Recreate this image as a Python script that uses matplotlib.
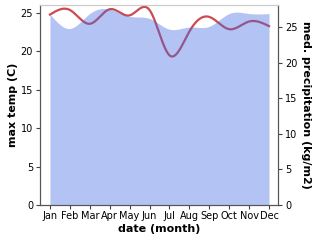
import numpy as np
import matplotlib
matplotlib.use("Agg")
import matplotlib.pyplot as plt

months = ["Jan", "Feb", "Mar", "Apr", "May", "Jun", "Jul", "Aug", "Sep", "Oct", "Nov", "Dec"]
max_temp = [24.8, 25.4, 23.6, 25.5, 24.7, 25.4, 19.5, 22.6, 24.5, 22.9, 23.9, 23.3]
precip = [26.8, 24.8, 26.9, 27.5, 26.5, 26.2, 24.7, 25.0, 25.1, 26.9, 26.9, 26.9]


def smooth(x, y, n=300):
    # natural cubic spline through the given points (rendering only)
    x = np.asarray(x, float)
    y = np.asarray(y, float)
    k = len(x)
    h = np.diff(x)
    A = np.zeros((k, k))
    b = np.zeros(k)
    A[0, 0] = A[-1, -1] = 1
    for i in range(1, k - 1):
        A[i, i - 1] = h[i - 1]
        A[i, i] = 2 * (h[i - 1] + h[i])
        A[i, i + 1] = h[i]
        b[i] = 3 * ((y[i + 1] - y[i]) / h[i] - (y[i] - y[i - 1]) / h[i - 1])
    c = np.linalg.solve(A, b)
    xs = np.linspace(x[0], x[-1], n)
    idx = np.clip(np.searchsorted(x, xs) - 1, 0, k - 2)
    dx = xs - x[idx]
    bb = (y[idx + 1] - y[idx]) / h[idx] - h[idx] * (2 * c[idx] + c[idx + 1]) / 3
    d = (c[idx + 1] - c[idx]) / (3 * h[idx])
    ys = y[idx] + bb * dx + c[idx] * dx ** 2 + d * dx ** 3
    return xs, ys


x = np.arange(1, 13)
fig = plt.figure(figsize=(3.18, 2.42), dpi=100)
ax = fig.add_axes([40 / 318, 37 / 242, 238 / 318, 200 / 242])
ax2 = ax.twinx()

xs, ts = smooth(x, max_temp)
ax.plot(xs, ts, color="#cd4b50", lw=1.6)
ax.set_ylim(0, 26.05)
ax.set_yticks([0, 5, 10, 15, 20, 25])
ax.set_xlim(0.5, 12.45)
ax.set_xticks(x)
ax.set_xticklabels(months)

xs, ps = smooth(x, precip)
ax2.fill_between(xs, 0, ps, color="#4169e1", alpha=0.4, lw=0)
ax2.set_ylim(0, 28.1)
ax2.set_yticks([0, 5, 10, 15, 20, 25])

for a in (ax, ax2):
    a.tick_params(labelsize=7, length=3, width=0.8, color="#444444", pad=2)
    for s in a.spines.values():
        s.set_color("#555555")
        s.set_linewidth(0.8)
    a.spines["top"].set_color("#cccccc")
ax.tick_params(axis="x", pad=1.5)

ax.set_xlabel("date (month)", fontsize=8, fontweight="bold", labelpad=2)
ax.set_ylabel("max temp (C)", fontsize=8, fontweight="bold", labelpad=2)
ax2.set_ylabel("med. precipitation (kg/m2)", fontsize=8, fontweight="bold", rotation=270, labelpad=10)

fig.savefig("out.png", dpi=100)
